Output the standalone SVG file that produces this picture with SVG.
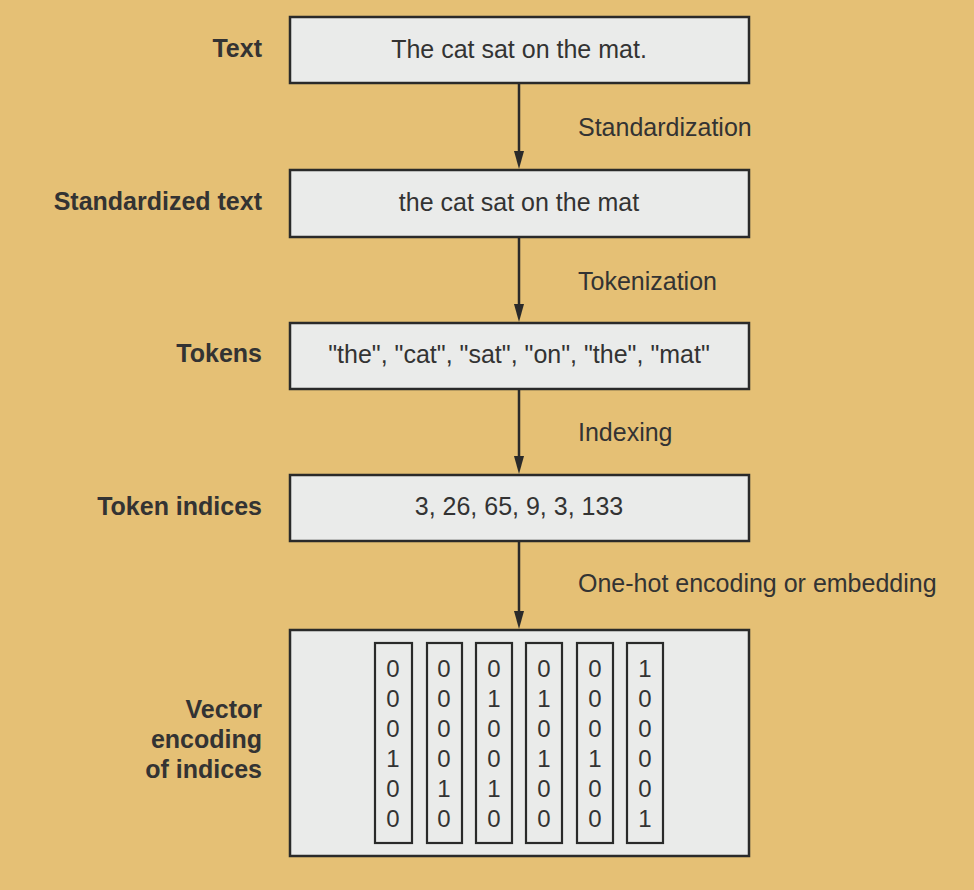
<svg xmlns="http://www.w3.org/2000/svg" width="974" height="890" viewBox="0 0 974 890">
<style>
.box{fill:#EAEBEA;stroke:#2a2a2a;stroke-width:2.5}
.vb{fill:#EAEBEA;stroke:#2a2a2a;stroke-width:2.2}
.t{font-family:"Liberation Sans",Arial,sans-serif;font-size:25px;fill:#333}
.lbl{font-family:"Liberation Sans",Arial,sans-serif;font-size:25px;font-weight:bold;fill:#333;text-anchor:end}
.c{text-anchor:middle}
.d{font-family:"Liberation Sans",Arial,sans-serif;font-size:24px;fill:#333;text-anchor:middle}
.ln{stroke:#2a2a2a;stroke-width:2.5;fill:none}
</style>
<rect width="974" height="890" fill="#E5C075"/>
<g id="connectors">
<line class="ln" x1="519" y1="84" x2="519" y2="152"/>
<polygon points="514,151 524,151 519,169" fill="#2a2a2a"/>
<line class="ln" x1="519" y1="238" x2="519" y2="305"/>
<polygon points="514,304 524,304 519,322" fill="#2a2a2a"/>
<line class="ln" x1="519" y1="390" x2="519" y2="457"/>
<polygon points="514,456 524,456 519,474" fill="#2a2a2a"/>
<line class="ln" x1="519" y1="542" x2="519" y2="612"/>
<polygon points="514,611 524,611 519,629" fill="#2a2a2a"/>
<text class="t" x="578" y="136">Standardization</text>
<text class="t" x="578" y="290">Tokenization</text>
<text class="t" x="578" y="441">Indexing</text>
<text class="t" x="578" y="592">One-hot encoding or embedding</text>
</g>
<g id="text">
<text class="lbl" x="262" y="57">Text</text>
<rect class="box" x="290" y="17" width="459" height="66"/>
<text class="t c" x="519" y="58">The cat sat on the mat.</text>
</g>
<g id="standardized">
<text class="lbl" x="262" y="210">Standardized text</text>
<rect class="box" x="290" y="170" width="459" height="67"/>
<text class="t c" x="519" y="211">the cat sat on the mat</text>
</g>
<g id="tokens">
<text class="lbl" x="262" y="362">Tokens</text>
<rect class="box" x="290" y="323" width="459" height="66"/>
<text class="t c" x="519" y="363">"the", "cat", "sat", "on", "the", "mat"</text>
</g>
<g id="indices">
<text class="lbl" x="262" y="515">Token indices</text>
<rect class="box" x="290" y="475" width="459" height="66"/>
<text class="t c" x="519" y="515">3, 26, 65, 9, 3, 133</text>
</g>
<g id="vectors">
<text class="lbl" x="262" y="718">Vector</text>
<text class="lbl" x="262" y="748">encoding</text>
<text class="lbl" x="262" y="778">of indices</text>
<rect class="box" x="290" y="630" width="459" height="226"/>
<rect class="vb" x="375" y="643" width="37" height="200"/>
<rect class="vb" x="427" y="643" width="35" height="200"/>
<rect class="vb" x="476" y="643" width="36" height="200"/>
<rect class="vb" x="526" y="643" width="36" height="200"/>
<rect class="vb" x="577" y="643" width="36" height="200"/>
<rect class="vb" x="627" y="643" width="36" height="200"/>
<text class="d" x="393" y="677">0</text><text class="d" x="393" y="707">0</text><text class="d" x="393" y="737">0</text><text class="d" x="393" y="767">1</text><text class="d" x="393" y="797">0</text><text class="d" x="393" y="827">0</text>
<text class="d" x="444" y="677">0</text><text class="d" x="444" y="707">0</text><text class="d" x="444" y="737">0</text><text class="d" x="444" y="767">0</text><text class="d" x="444" y="797">1</text><text class="d" x="444" y="827">0</text>
<text class="d" x="494" y="677">0</text><text class="d" x="494" y="707">1</text><text class="d" x="494" y="737">0</text><text class="d" x="494" y="767">0</text><text class="d" x="494" y="797">1</text><text class="d" x="494" y="827">0</text>
<text class="d" x="544" y="677">0</text><text class="d" x="544" y="707">1</text><text class="d" x="544" y="737">0</text><text class="d" x="544" y="767">1</text><text class="d" x="544" y="797">0</text><text class="d" x="544" y="827">0</text>
<text class="d" x="595" y="677">0</text><text class="d" x="595" y="707">0</text><text class="d" x="595" y="737">0</text><text class="d" x="595" y="767">1</text><text class="d" x="595" y="797">0</text><text class="d" x="595" y="827">0</text>
<text class="d" x="645" y="677">1</text><text class="d" x="645" y="707">0</text><text class="d" x="645" y="737">0</text><text class="d" x="645" y="767">0</text><text class="d" x="645" y="797">0</text><text class="d" x="645" y="827">1</text>
</g>
</svg>
